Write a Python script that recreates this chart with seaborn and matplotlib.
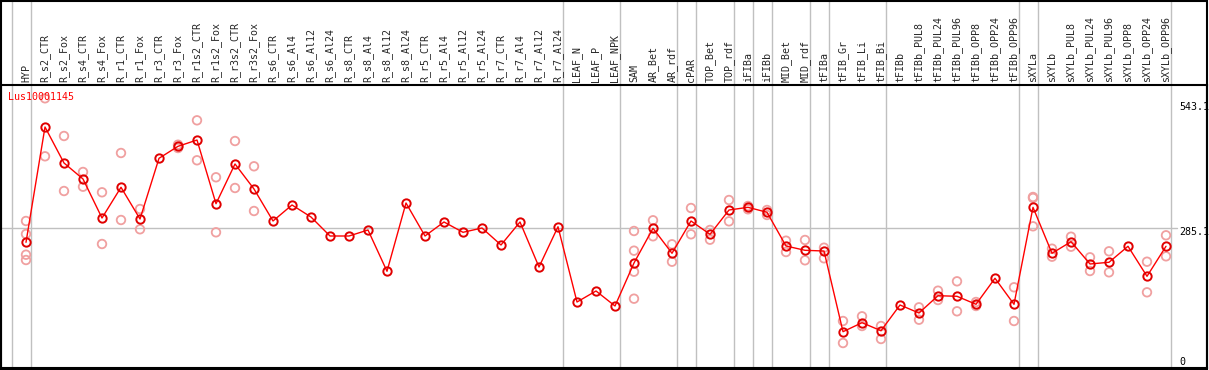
import numpy as np
import pandas as pd
import matplotlib
matplotlib.use('Agg')
import matplotlib.pyplot as plt
import matplotlib.transforms as mtransforms
from matplotlib.patches import Rectangle
import seaborn as sns

# sample names (x axis, drawn on top)
samples = ['HYP', 'R_s2_CTR', 'R_s2_Fox', 'R_s4_CTR', 'R_s4_Fox', 'R_r1_CTR', 'R_r1_Fox',
           'R_r3_CTR', 'R_r3_Fox', 'R_r1s2_CTR', 'R_r1s2_Fox', 'R_r3s2_CTR', 'R_r3s2_Fox',
           'R_s6_CTR', 'R_s6_Al4', 'R_s6_Al12', 'R_s6_Al24', 'R_s8_CTR', 'R_s8_Al4',
           'R_s8_Al12', 'R_s8_Al24', 'R_r5_CTR', 'R_r5_Al4', 'R_r5_Al12', 'R_r5_Al24',
           'R_r7_CTR', 'R_r7_Al4', 'R_r7_Al12', 'R_r7_Al24', 'LEAF_N', 'LEAF_P', 'LEAF_NPK',
           'SAM', 'AR_Bet', 'AR_rdf', 'cPAR', 'TOP_Bet', 'TOP_rdf', 'iFIBa', 'iFIBb',
           'MID_Bet', 'MID_rdf', 'tFIBa', 'tFIB_Gr', 'tFIB_Li', 'tFIB_Bi', 'tFIBb',
           'tFIBb_PUL8', 'tFIBb_PUL24', 'tFIBb_PUL96', 'tFIBb_OPP8', 'tFIBb_OPP24',
           'tFIBb_OPP96', 'sXYLa', 'sXYLb', 'sXYLb_PUL8', 'sXYLb_PUL24', 'sXYLb_PUL96',
           'sXYLb_OPP8', 'sXYLb_OPP24', 'sXYLb_OPP96']

# mean expression per sample
means = [254.9, 498.4, 422.4, 388.6, 306.2, 371.1, 304.1, 432.3, 457.6, 470.9,
         336.4, 420.3, 367.5, 299.9, 333.7, 308.3, 268.2, 268.2, 280.9, 193.7,
         337.9, 268.2, 297.8, 276.0, 285.1, 249.2, 297.8, 202.7, 287.8, 128.8,
         152.1, 120.4, 211.2, 284.5, 231.7, 299.9, 271.8, 323.1, 328.8, 318.3,
         247.1, 238.0, 236.5, 66.1, 85.1, 68.2, 122.5, 105.6, 142.1, 140.9,
         124.0, 178.9, 124.0, 328.8, 231.7, 256.2, 209.1, 212.7, 246.5, 183.1,
         246.5]

# individual replicates (only where visible)
replicates = {
    0: [299.9, 272.4, 228.7, 217.5], 1: [559.0, 436.5], 2: [479.4, 363.2],
    3: [403.4, 372.3], 4: [360.5, 251.3], 5: [443.5, 302.0], 6: [325.2, 282.4],
    8: [454.0, 461.0], 9: [512.5, 428.1], 10: [392.2, 276.0], 11: [468.8, 369.6],
    12: [415.4, 321.0],
    32: [278.8, 237.2, 192.8, 135.8], 33: [301.4, 267.6], 34: [250.7, 213.9],
    35: [327.3, 271.8], 36: [280.9, 260.4], 37: [344.2, 299.2], 38: [331.6, 324.6],
    39: [323.1, 312.6], 40: [258.3, 234.4], 41: [259.8, 216.9], 42: [243.5, 221.1],
    43: [88.7, 42.2], 44: [98.6, 78.1], 45: [78.1, 50.7], 47: [117.6, 91.4],
    48: [152.7, 133.0], 49: [172.5, 109.2], 50: [128.8, 120.4], 52: [159.9, 88.7],
    53: [350.6, 348.5, 288.7], 54: [241.4, 224.5], 55: [266.7, 245.6],
    56: [223.2, 194.3], 57: [235.9, 191.5], 59: [213.9, 149.3], 60: [269.7, 225.3],
}

# first index of each sample group (last entry = end)
group_starts = [0, 1, 29, 32, 35, 36, 38, 39, 40, 42, 43, 46, 53, 54, 61]

scale_labels = [543.1, 285.1, 0]
gene = 'Lus10001145'

df_mean = pd.DataFrame({'pos': np.arange(len(samples)), 'value': means})
df_rep = pd.DataFrame([(k, v) for k, vals in replicates.items() for v in vals],
                      columns=['pos', 'value'])

sns.set_style('white')
plt.rcParams['font.family'] = ['DejaVu Sans Mono']

W, H = 1209, 370
fig = plt.figure(figsize=(W / 100, H / 100), dpi=100)
ax = fig.add_axes([1 / W, 2 / H, 1206 / W, 283 / H])

# grid lines
ax.axhline(285.1, xmin=0, xmax=0.975, color='#c0c0c0', lw=1, zorder=0)
for g in group_starts:
    ax.axvline(g - 0.76, ymin=0, ymax=368 / 283, color='#c0c0c0', lw=1,
               clip_on=False, zorder=0)

sns.scatterplot(data=df_rep, x='pos', y='value', ax=ax, marker='o',
                facecolors='none', edgecolor='#f0a0a0', linewidth=1.3, s=38, zorder=2)
sns.lineplot(data=df_mean, x='pos', y='value', ax=ax, color='red', lw=1,
             marker='o', markersize=6, markerfacecolor='none',
             markeredgecolor='#e00000', markeredgewidth=1.4, zorder=3)

ax.set_xlim(-25 / 19, 1181 / 19)
ax.set_ylim(-5 / 0.47352, 278 / 0.47352)

ax.xaxis.tick_top()
ax.set_xticks(range(len(samples)))
ax.set_xticklabels(samples, rotation=90, fontsize=7.2)
ax.tick_params(axis='x', length=0, pad=2)
ax.set_yticks([])
ax.set_xlabel('')
ax.set_ylabel('')
for s in ax.spines.values():
    s.set_color('black')
    s.set_linewidth(1.5)

ax.annotate(gene, xy=(0, 1), xycoords='axes fraction', xytext=(7, -12),
            textcoords='offset pixels', color='red', fontsize=7.2,
            ha='left', va='center')

trans = mtransforms.blended_transform_factory(ax.transAxes, ax.transData)
offsets = {543.1: -1, 285.1: -4, 0: 1}
for v in scale_labels:
    ax.annotate(f'{v:g}', xy=(0.977, v), xycoords=trans,
                xytext=(0, offsets[v]), textcoords='offset pixels',
                fontsize=7.2, ha='left', va='center', color='black')

# outer frame
fig.patches.append(Rectangle((1 / W, 1 / H), 1206 / W, 368 / H, transform=fig.transFigure,
                             fill=False, ec='black', lw=1.5))

fig.savefig('out.png', dpi=100)
